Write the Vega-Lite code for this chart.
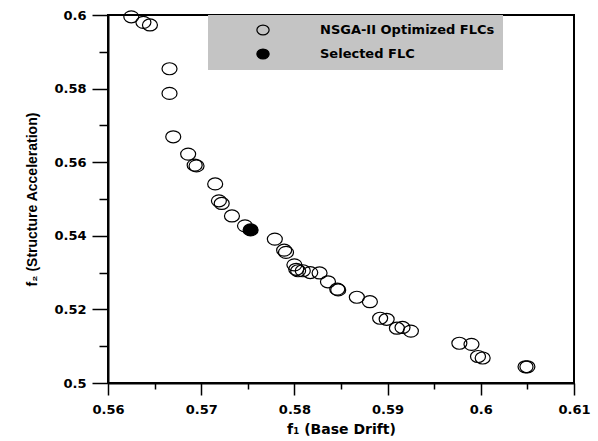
{
  "$schema": "https://vega.github.io/schema/vega-lite/v6.json",
  "autosize": {"type": "none"},
  "width": 466,
  "height": 368,
  "padding": {"left": 108, "top": 15, "right": 24, "bottom": 58},
  "background": "white",
  "config": {
    "view": {"stroke": "black", "strokeWidth": 2},
    "axis": {"grid": false, "domainColor": "black", "domainWidth": 2, "tickColor": "black", "tickWidth": 1.5,
             "labelFont": "DejaVu Sans", "labelFontWeight": "bold", "labelFontSize": 13, "labelColor": "black",
             "titleFont": "DejaVu Sans", "titleFontWeight": "bold", "titleFontSize": 14, "titleColor": "black"},
    "legend": {"orient": "none", "legendX": 100, "legendY": 0, "fillColor": "#c4c4c4", "padding": 8,
               "symbolOffset": 40, "labelOffset": 50, "rowPadding": 8, "labelLimit": 600,
               "labelFont": "DejaVu Sans", "labelFontWeight": "bold", "labelFontSize": 13, "labelColor": "black",
               "symbolStrokeColor": "black", "symbolStrokeWidth": 1.2, "symbolSize": 150}
  },
  "data": {"values": [
    {"f1": 0.5625, "f2": 0.5995, "type": "NSGA-II Optimized FLCs"},
    {"f1": 0.5638, "f2": 0.5980, "type": "NSGA-II Optimized FLCs"},
    {"f1": 0.5645, "f2": 0.5973, "type": "NSGA-II Optimized FLCs"},
    {"f1": 0.5666, "f2": 0.5854, "type": "NSGA-II Optimized FLCs"},
    {"f1": 0.5666, "f2": 0.5787, "type": "NSGA-II Optimized FLCs"},
    {"f1": 0.5670, "f2": 0.5669, "type": "NSGA-II Optimized FLCs"},
    {"f1": 0.5686, "f2": 0.5622, "type": "NSGA-II Optimized FLCs"},
    {"f1": 0.5693, "f2": 0.5592, "type": "NSGA-II Optimized FLCs"},
    {"f1": 0.5695, "f2": 0.5590, "type": "NSGA-II Optimized FLCs"},
    {"f1": 0.5715, "f2": 0.5541, "type": "NSGA-II Optimized FLCs"},
    {"f1": 0.5719, "f2": 0.5495, "type": "NSGA-II Optimized FLCs"},
    {"f1": 0.5722, "f2": 0.5488, "type": "NSGA-II Optimized FLCs"},
    {"f1": 0.5733, "f2": 0.5454, "type": "NSGA-II Optimized FLCs"},
    {"f1": 0.5747, "f2": 0.5427, "type": "NSGA-II Optimized FLCs"},
    {"f1": 0.5779, "f2": 0.5391, "type": "NSGA-II Optimized FLCs"},
    {"f1": 0.5789, "f2": 0.5361, "type": "NSGA-II Optimized FLCs"},
    {"f1": 0.5791, "f2": 0.5355, "type": "NSGA-II Optimized FLCs"},
    {"f1": 0.5800, "f2": 0.5321, "type": "NSGA-II Optimized FLCs"},
    {"f1": 0.5802, "f2": 0.5309, "type": "NSGA-II Optimized FLCs"},
    {"f1": 0.5804, "f2": 0.5305, "type": "NSGA-II Optimized FLCs"},
    {"f1": 0.5809, "f2": 0.5305, "type": "NSGA-II Optimized FLCs"},
    {"f1": 0.5817, "f2": 0.5300, "type": "NSGA-II Optimized FLCs"},
    {"f1": 0.5827, "f2": 0.5299, "type": "NSGA-II Optimized FLCs"},
    {"f1": 0.5836, "f2": 0.5275, "type": "NSGA-II Optimized FLCs"},
    {"f1": 0.5846, "f2": 0.5255, "type": "NSGA-II Optimized FLCs"},
    {"f1": 0.5847, "f2": 0.5253, "type": "NSGA-II Optimized FLCs"},
    {"f1": 0.5867, "f2": 0.5233, "type": "NSGA-II Optimized FLCs"},
    {"f1": 0.5881, "f2": 0.5221, "type": "NSGA-II Optimized FLCs"},
    {"f1": 0.5892, "f2": 0.5176, "type": "NSGA-II Optimized FLCs"},
    {"f1": 0.5899, "f2": 0.5173, "type": "NSGA-II Optimized FLCs"},
    {"f1": 0.5910, "f2": 0.5149, "type": "NSGA-II Optimized FLCs"},
    {"f1": 0.5916, "f2": 0.5151, "type": "NSGA-II Optimized FLCs"},
    {"f1": 0.5925, "f2": 0.5141, "type": "NSGA-II Optimized FLCs"},
    {"f1": 0.5977, "f2": 0.5108, "type": "NSGA-II Optimized FLCs"},
    {"f1": 0.5990, "f2": 0.5105, "type": "NSGA-II Optimized FLCs"},
    {"f1": 0.5997, "f2": 0.5072, "type": "NSGA-II Optimized FLCs"},
    {"f1": 0.6002, "f2": 0.5068, "type": "NSGA-II Optimized FLCs"},
    {"f1": 0.6048, "f2": 0.5044, "type": "NSGA-II Optimized FLCs"},
    {"f1": 0.6050, "f2": 0.5044, "type": "NSGA-II Optimized FLCs"},
    {"f1": 0.5753, "f2": 0.5416, "type": "Selected FLC"}
  ]},
  "mark": {"type": "point", "shape": "M-1,0A1,0.8,0,1,1,1,0A1,0.8,0,1,1,-1,0Z", "size": 225, "filled": true,
           "stroke": "black", "strokeWidth": 1.2, "opacity": 1},
  "encoding": {
    "x": {"field": "f1", "type": "quantitative",
          "scale": {"domain": [0.56, 0.61], "nice": false, "zero": false},
          "axis": {"title": "f₁ (Base Drift)", "titlePadding": 6,
                   "values": [0.56, 0.565, 0.57, 0.575, 0.58, 0.585, 0.59, 0.595, 0.6, 0.605, 0.61],
                   "labelExpr": "abs(datum.value*100 - round(datum.value*100)) < 0.01 ? format(datum.value, '~g') : ''",
                   "labelPadding": 8, "labelDx": 2, "labelFlush": false,
                   "tickSize": {"condition": {"test": "abs(datum.value*100 - round(datum.value*100)) < 0.01", "value": 12}, "value": 6}}},
    "y": {"field": "f2", "type": "quantitative",
          "scale": {"domain": [0.5, 0.6], "nice": false, "zero": false},
          "axis": {"title": "f₂ (Structure Acceleration)", "titleFont": "Liberation Sans", "titlePadding": 14,
                   "values": [0.5, 0.51, 0.52, 0.53, 0.54, 0.55, 0.56, 0.57, 0.58, 0.59, 0.6],
                   "labelExpr": "abs(datum.value*50 - round(datum.value*50)) < 0.01 ? format(datum.value, '~g') : ''",
                   "labelPadding": 6, "labelFlush": false,
                   "tickSize": {"condition": {"test": "abs(datum.value*50 - round(datum.value*50)) < 0.01", "value": 16}, "value": 9}}},
    "fill": {"field": "type", "type": "nominal",
             "scale": {"domain": ["NSGA-II Optimized FLCs", "Selected FLC"], "range": ["transparent", "black"]},
             "legend": {"title": null, "symbolType": "M-1,0A1,0.8,0,1,1,1,0A1,0.8,0,1,1,-1,0Z"}}
  }
}
